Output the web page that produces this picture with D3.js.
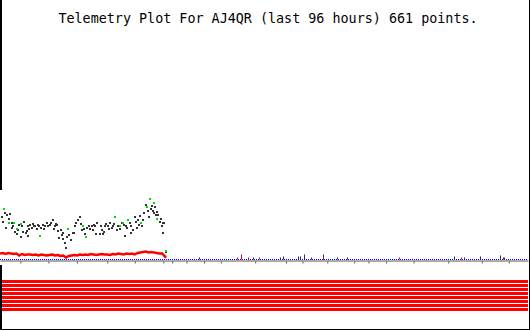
<!DOCTYPE html>
<html>
<head>
<meta charset="utf-8">
<script src="https://cdn.jsdelivr.net/npm/d3@7"></script>
<style>
  body { margin: 0; background: #fff; }
  .title { font-family: 'DejaVu Sans Mono', monospace; font-size: 13.4px; fill: #000; }
</style>
</head>
<body>
<div id="chart"></div>
<script>
// telemetry samples, [hours into window, value]
const darkPts = [
  [0.3, 43], [0.5, 38], [1.3, 45], [1.8, 46], [1.1, 32], [2.2, 37], [2.1, 32], [2.7, 28],
  [3.1, 26], [3.5, 35], [3.9, 23], [4.4, 38], [4.2, 28], [4.7, 27], [5.0, 24], [5.1, 33],
  [5.5, 35], [5.8, 32], [6.1, 33], [6.4, 34], [6.7, 31], [7.0, 33], [7.8, 35], [8.0, 31],
  [8.5, 37], [8.8, 34], [9.2, 37], [9.6, 40], [9.8, 31], [10.2, 36], [10.4, 35], [10.8, 22],
  [11.1, 30], [11.2, 25], [11.5, 21], [11.8, 17], [12.0, 12], [12.1, 23], [12.9, 20], [13.2, 27],
  [13.5, 27], [13.9, 37], [14.2, 40], [14.5, 43], [14.9, 30], [15.5, 26], [16.1, 34], [16.4, 31],
  [16.7, 33], [17.1, 35], [17.5, 26], [17.7, 37], [18.1, 26], [18.3, 33], [18.7, 26], [18.9, 28],
  [19.3, 36], [19.7, 34], [20.0, 37], [20.3, 32], [20.6, 34], [21.2, 30], [21.5, 33], [22.1, 37],
  [22.7, 24], [22.9, 33], [23.6, 37], [23.9, 27], [24.2, 30], [24.5, 43], [24.9, 32], [25.1, 40],
  [25.5, 44], [25.9, 33], [26.2, 47], [26.5, 55], [27.0, 43], [27.6, 54], [27.8, 49], [28.2, 53],
  [28.4, 45], [28.8, 45], [29.1, 38], [29.4, 34], [29.6, 37], [29.7, 27], [29.9, 37], [30.1, 7],
  [0.9, 47], [1.6, 41], [2.4, 34], [3.3, 30], [4.0, 33], [4.9, 29], [5.3, 31], [6.0, 36],
  [6.9, 35], [7.5, 32], [8.2, 33], [9.0, 35], [10.0, 33], [10.6, 29], [11.4, 27], [12.6, 25],
  [13.7, 33], [14.7, 36], [15.3, 31], [15.9, 32], [16.9, 30], [17.3, 33], [18.5, 30], [19.1, 33],
  [19.9, 31], [20.8, 36], [21.9, 31], [22.5, 35], [23.1, 32], [23.8, 34], [24.7, 38], [25.3, 35],
  [26.0, 40], [26.9, 49], [27.4, 51], [28.0, 47], [28.6, 48], [29.2, 41]
];
const greenPts = [
  [0.7, 51], [1.7, 37], [2.5, 37], [3.0, 31], [3.8, 36], [7.3, 24], [12.4, 31], [15.1, 34],
  [15.6, 23], [20.9, 43], [21.8, 34], [22.4, 37], [23.3, 40], [25.6, 37], [26.7, 53], [27.3, 60],
  [28.0, 56], [28.6, 41], [30.1, 9]
];
const redHours = d3.range(0, 30.01, 0.5).concat([30.2]);
const redVals = [
  6, 6.5, 5.5, 6.5, 6, 5.5, 6, 4, 5.5, 4.5, 5, 5, 4.5, 5, 4, 5, 4.5, 4, 4.5, 5, 4,
  4.5, 3.5, 4, 2, 3.5, 4, 4.5, 4, 5, 4.5, 5, 4.5, 5.5, 5, 4.5, 5, 5.5, 5, 5, 4.5,
  5.5, 5, 6, 5.5, 5, 6, 5.5, 6, 5, 6.5, 7, 7.5, 8, 7, 7.5, 7, 6.5, 6, 6, 3, 2
];
// sparse readings after the gap
const lateDark = [[36.2, 2], [46, 2], [50.9, 2], [51.5, 3], [54.2, 3], [54.5, 3], [55.2, 5], [56.5, 2],
  [58.7, 5], [61.3, 2], [63.1, 2], [82.5, 3], [84.4, 2], [87.3, 3], [90.9, 4], [91.5, 2]];
const lateRed = [[43, 2], [43.8, 5], [45, 2], [47.1, 2], [58.7, 2], [72.5, 2], [83.8, 2], [91.6, 2]];
const tickHours = [3.7, 8.8, 14, 19.5, 24.5, 29.7, 31.3, 33.9, 37.1, 40.2, 46.4, 52, 55, 59.5, 64.4,
  67, 70.2, 75.2, 81.5, 87.6, 92.5];
const bitChannels = ['b0', 'b1', 'b2', 'b3', 'b4', 'b5', 'b6', 'b7'];
const bitWindow = [0, 96];

const width = 530, height = 330;

const svg = d3.select('#chart').append('svg')
  .attr('width', width)
  .attr('height', height);

const x = d3.scaleLinear().domain([0, 96]).range([0, 528]);
const y = d3.scaleLinear().domain([0, 230]).range([259.5, 29.5]);

// title
svg.append('text')
  .attr('class', 'title')
  .attr('x', 268)
  .attr('y', 23)
  .attr('text-anchor', 'middle')
  .text('Telemetry Plot For AJ4QR (last 96 hours) 661 points.');

// time axis (gray band)
const axis = svg.append('g')
  .attr('transform', 'translate(0,260.5)')
  .call(d3.axisBottom(x).tickValues(tickHours).tickSize(2).tickSizeOuter(0).tickFormat(''));
axis.select('path').attr('stroke', '#aaa').attr('stroke-width', 2);
axis.selectAll('g.tick line').attr('stroke', '#555').attr('transform', 'translate(0,1)');

// zero line, dotted blue
svg.append('line')
  .attr('x1', x(0)).attr('x2', x(96))
  .attr('y1', y(0)).attr('y2', y(0))
  .attr('stroke', '#0000ff')
  .attr('stroke-dasharray', '1,1');

// red trace
const redLine = d3.line()
  .x((d, i) => x(redHours[i]))
  .y(d => y(d));
svg.append('path')
  .datum(redVals)
  .attr('fill', 'none')
  .attr('stroke', '#ff0000')
  .attr('stroke-width', 2.5)
  .attr('d', redLine);

// dark points
svg.selectAll('rect.dark')
  .data(darkPts).enter()
  .append('rect')
  .attr('class', 'dark')
  .attr('x', d => Math.round(x(d[0])) - 1)
  .attr('y', d => Math.round(y(d[1])) - 1)
  .attr('width', 2)
  .attr('height', 2)
  .attr('fill', '#333');

// green points
svg.selectAll('rect.green')
  .data(greenPts).enter()
  .append('rect')
  .attr('class', 'green')
  .attr('x', d => Math.round(x(d[0])) - 1)
  .attr('y', d => Math.round(y(d[1])) - 1)
  .attr('width', 2)
  .attr('height', 2)
  .attr('fill', '#00dd00');

// late readings drawn as small bars off the zero line
function drawBars(data, color) {
  svg.selectAll(null)
    .data(data).enter()
    .append('rect')
    .attr('x', d => Math.round(x(d[0])))
    .attr('y', d => y(d[1]))
    .attr('width', 1)
    .attr('height', d => y(0) - y(d[1]))
    .attr('fill', color);
}
drawBars(lateDark, '#333');
drawBars(lateRed, '#ff0000');

// status bits
const band = d3.scaleBand()
  .domain(bitChannels)
  .range([279.5, 311.5])
  .paddingInner(0.25)
  .paddingOuter(0.125);
svg.selectAll('rect.bit')
  .data(bitChannels).enter()
  .append('rect')
  .attr('class', 'bit')
  .attr('x', x(bitWindow[0]))
  .attr('width', x(bitWindow[1]) - x(bitWindow[0]))
  .attr('y', d => band(d))
  .attr('height', band.bandwidth())
  .attr('fill', '#ff0000');

// frame
svg.append('rect').attr('x', 0).attr('y', 0).attr('width', 2).attr('height', 190).attr('fill', '#000');
svg.append('rect').attr('x', 0).attr('y', 265).attr('width', 2).attr('height', 65).attr('fill', '#000');
svg.append('rect').attr('x', 529).attr('y', 0).attr('width', 1).attr('height', height).attr('fill', '#000');
svg.append('rect').attr('x', 0).attr('y', 329).attr('width', width).attr('height', 1).attr('fill', '#000');
</script>
</body>
</html>
